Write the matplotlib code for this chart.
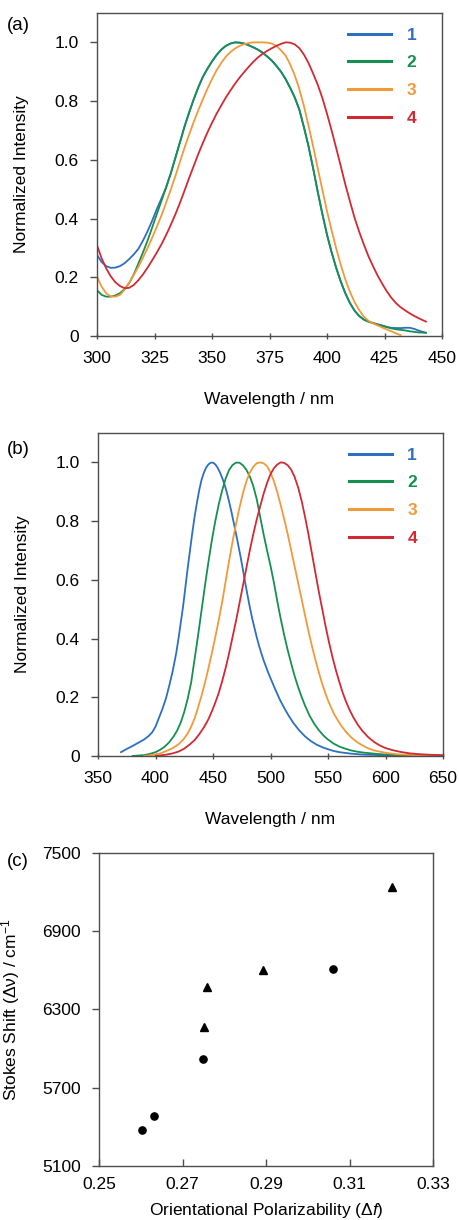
import matplotlib
matplotlib.use("Agg")
import matplotlib.pyplot as plt

# ========== Style ==========
plt.rcParams["font.family"] = ["Liberation Sans", "DejaVu Sans"]
plt.rcParams["mathtext.fontset"] = "custom"
plt.rcParams["mathtext.rm"] = "Liberation Sans"
plt.rcParams["mathtext.it"] = "Liberation Sans:italic"
FS = 12.5
SPINE = "#4d4d4d"
colors = ["#2d6fc0", "#169050", "#f09a3a", "#d02a35"]
labels = ["1", "2", "3", "4"]

# ========== (a) absorption ==========
abs1_x = [300, 302, 304, 306, 308, 310, 312, 314, 316, 318, 320, 322, 324, 326, 328, 330, 332, 334, 336, 338,
          340, 342, 344, 346, 348, 350, 352, 354, 356, 358, 360, 362, 364, 366, 368, 370, 372, 374, 376, 378,
          380, 382, 384, 386, 388, 390, 392, 394, 396, 398, 400, 402, 404, 406, 408, 410, 412, 414, 416, 418,
          420, 422, 424, 426, 428, 430, 432, 434, 436, 438, 440, 443]
abs1_y = [0.276, 0.252, 0.238, 0.232, 0.233, 0.238, 0.248, 0.262, 0.278, 0.297, 0.325, 0.357, 0.393, 0.432,
          0.468, 0.505, 0.552, 0.605, 0.658, 0.712, 0.76, 0.805, 0.846, 0.882, 0.91, 0.935, 0.957, 0.975, 0.988,
          0.996, 1.0, 0.999, 0.996, 0.99, 0.983, 0.975, 0.965, 0.952, 0.938, 0.92, 0.9, 0.875, 0.845, 0.812,
          0.77, 0.71, 0.645, 0.57, 0.49, 0.415, 0.345, 0.285, 0.232, 0.185, 0.145, 0.112, 0.086, 0.068, 0.056,
          0.049, 0.044, 0.04, 0.036, 0.031, 0.028, 0.027, 0.027, 0.028, 0.028, 0.024, 0.018, 0.011]
abs2_x = [300, 302, 304, 306, 308, 310, 312, 314, 316, 318, 320, 322, 324, 326, 328, 330, 332, 334, 336, 338,
          340, 342, 344, 346, 348, 350, 352, 354, 356, 358, 360, 362, 364, 366, 368, 370, 372, 374, 376, 378,
          380, 382, 384, 386, 388, 390, 392, 394, 396, 398, 400, 402, 404, 406, 408, 410, 412, 414, 416, 418,
          420, 422, 424, 426, 428, 430, 432, 434, 436, 438, 440, 443]
abs2_y = [0.156, 0.14, 0.134, 0.134, 0.138, 0.146, 0.16, 0.18, 0.21, 0.247, 0.285, 0.325, 0.37, 0.415, 0.46,
          0.505, 0.552, 0.605, 0.658, 0.712, 0.76, 0.805, 0.846, 0.882, 0.91, 0.935, 0.957, 0.975, 0.988, 0.996,
          1.0, 0.999, 0.996, 0.99, 0.983, 0.975, 0.965, 0.952, 0.938, 0.92, 0.9, 0.875, 0.845, 0.812, 0.77,
          0.71, 0.645, 0.57, 0.49, 0.415, 0.345, 0.285, 0.232, 0.185, 0.145, 0.112, 0.086, 0.068, 0.056, 0.049,
          0.044, 0.039, 0.034, 0.03, 0.026, 0.023, 0.021, 0.019, 0.016, 0.014, 0.012, 0.011]
abs3_x = [300, 302, 304, 306, 308, 310, 312, 314, 316, 318, 320, 322, 324, 326, 328, 330, 332, 334, 336, 338,
          340, 342, 344, 346, 348, 350, 352, 354, 356, 358, 360, 362, 364, 366, 368, 370, 372, 374, 376, 378,
          380, 382, 384, 386, 388, 390, 392, 394, 396, 398, 400, 402, 404, 406, 408, 410, 412, 414, 416, 418,
          420, 422, 424, 426, 428, 430, 432]
abs3_y = [0.202, 0.168, 0.145, 0.135, 0.134, 0.14, 0.158, 0.182, 0.208, 0.236, 0.267, 0.3, 0.335, 0.372, 0.41,
          0.453, 0.497, 0.543, 0.592, 0.64, 0.685, 0.728, 0.768, 0.806, 0.842, 0.875, 0.905, 0.93, 0.951, 0.967,
          0.979, 0.988, 0.994, 0.998, 1.0, 1.0, 1.0, 0.999, 0.996, 0.988, 0.973, 0.955, 0.925, 0.887, 0.84,
          0.782, 0.715, 0.645, 0.57, 0.497, 0.425, 0.36, 0.298, 0.242, 0.192, 0.15, 0.115, 0.088, 0.066, 0.052,
          0.043, 0.036, 0.029, 0.022, 0.016, 0.009, 0.003]
abs4_x = [300, 302, 304, 306, 308, 310, 312, 314, 316, 318, 320, 322, 324, 326, 328, 330, 332, 334, 336, 338,
          340, 342, 344, 346, 348, 350, 352, 354, 356, 358, 360, 362, 364, 366, 368, 370, 372, 374, 376, 378,
          380, 382, 384, 386, 388, 390, 392, 394, 396, 398, 400, 402, 404, 406, 408, 410, 412, 414, 416, 418,
          420, 422, 424, 426, 428, 430, 432, 434, 436, 438, 440, 443]
abs4_y = [0.309, 0.265, 0.23, 0.203, 0.183, 0.17, 0.163, 0.164, 0.174, 0.19, 0.21, 0.233, 0.258, 0.284, 0.312,
          0.343, 0.377, 0.413, 0.452, 0.494, 0.537, 0.578, 0.619, 0.657, 0.693, 0.726, 0.757, 0.785, 0.812,
          0.836, 0.859, 0.88, 0.899, 0.917, 0.934, 0.949, 0.961, 0.971, 0.98, 0.988, 0.995, 1.0, 0.999, 0.993,
          0.98, 0.958, 0.929, 0.893, 0.855, 0.81, 0.757, 0.7, 0.64, 0.578, 0.515, 0.458, 0.402, 0.355, 0.312,
          0.272, 0.238, 0.206, 0.178, 0.152, 0.13, 0.112, 0.098, 0.087, 0.077, 0.068, 0.06, 0.049]

# ========== (b) emission ==========
em1_x = [370, 375, 380, 385, 390, 394, 397, 400, 403, 406, 409, 412, 415, 418, 420, 422, 424, 426, 428, 430,
         432, 434, 436, 438, 440, 442, 444, 446, 448, 450, 452, 454, 456, 458, 460, 462, 464, 466, 468, 470,
         472, 474, 476, 478, 480, 482, 484, 486, 488, 490, 492, 494, 496, 498, 500, 504, 508, 512, 516, 520,
         525, 530, 535, 540, 545, 550, 555, 560, 570, 580, 595, 610]
em1_y = [0.013, 0.024, 0.034, 0.045, 0.056, 0.068, 0.08, 0.1, 0.13, 0.16, 0.195, 0.24, 0.29, 0.35, 0.4, 0.455,
         0.51, 0.575, 0.64, 0.7, 0.76, 0.815, 0.862, 0.905, 0.94, 0.964, 0.982, 0.993, 0.999, 0.999, 0.993,
         0.982, 0.966, 0.947, 0.925, 0.898, 0.866, 0.832, 0.795, 0.757, 0.718, 0.678, 0.635, 0.59, 0.548, 0.507,
         0.47, 0.437, 0.405, 0.376, 0.35, 0.326, 0.305, 0.284, 0.265, 0.228, 0.193, 0.163, 0.136, 0.112, 0.087,
         0.067, 0.051, 0.039, 0.03, 0.023, 0.017, 0.013, 0.008, 0.005, 0.003, 0.001]
em2_x = [380, 390, 395, 400, 404, 408, 412, 416, 419, 422, 425, 428, 431, 434, 437, 440, 443, 446, 449, 452,
         455, 458, 461, 464, 467, 470, 473, 476, 479, 482, 485, 488, 491, 494, 497, 500, 503, 506, 509, 512,
         515, 518, 521, 524, 527, 530, 534, 538, 542, 546, 550, 555, 560, 565, 570, 575, 580, 590, 600, 615,
         635]
em2_y = [0.0, 0.003, 0.007, 0.013, 0.021, 0.032, 0.047, 0.068, 0.088, 0.115, 0.15, 0.195, 0.25, 0.33, 0.41,
         0.495, 0.58, 0.66, 0.735, 0.8, 0.857, 0.905, 0.945, 0.974, 0.991, 0.999, 0.999, 0.99, 0.975, 0.952,
         0.92, 0.875, 0.815, 0.755, 0.7, 0.648, 0.59, 0.525, 0.465, 0.41, 0.36, 0.315, 0.272, 0.235, 0.202,
         0.172, 0.137, 0.11, 0.088, 0.07, 0.056, 0.042, 0.032, 0.025, 0.019, 0.015, 0.012, 0.008, 0.005, 0.002,
         0.0]
em3_x = [390, 400, 405, 410, 415, 420, 424, 428, 431, 434, 437, 440, 443, 446, 449, 452, 455, 458, 461, 464,
         467, 470, 473, 476, 479, 482, 485, 488, 491, 494, 497, 500, 503, 506, 509, 512, 515, 518, 521, 524,
         527, 530, 533, 536, 539, 542, 545, 548, 551, 555, 560, 565, 570, 575, 580, 585, 590, 600, 610, 625,
         650]
em3_y = [0.0, 0.005, 0.01, 0.018, 0.027, 0.04, 0.055, 0.077, 0.1, 0.128, 0.165, 0.205, 0.25, 0.298, 0.35,
         0.405, 0.463, 0.525, 0.595, 0.665, 0.73, 0.79, 0.845, 0.895, 0.935, 0.965, 0.985, 0.997, 1.0, 0.997,
         0.987, 0.965, 0.935, 0.897, 0.852, 0.805, 0.755, 0.7, 0.645, 0.59, 0.535, 0.48, 0.425, 0.375, 0.328,
         0.285, 0.245, 0.21, 0.18, 0.145, 0.112, 0.085, 0.064, 0.048, 0.036, 0.026, 0.019, 0.011, 0.006, 0.003,
         0.0]
em4_x = [400, 410, 415, 420, 425, 430, 434, 438, 442, 446, 449, 452, 455, 458, 461, 464, 467, 470, 473, 476,
         479, 482, 485, 488, 491, 494, 497, 500, 503, 506, 509, 512, 515, 518, 521, 524, 527, 530, 533, 536,
         539, 542, 545, 548, 551, 554, 557, 560, 563, 566, 569, 572, 576, 580, 585, 590, 595, 600, 606, 613,
         621, 630, 640, 650]
em4_y = [0.0, 0.005, 0.009, 0.015, 0.025, 0.04, 0.054, 0.074, 0.097, 0.125, 0.152, 0.182, 0.215, 0.255, 0.3,
         0.35, 0.405, 0.46, 0.52, 0.58, 0.64, 0.7, 0.755, 0.805, 0.85, 0.893, 0.93, 0.96, 0.98, 0.993, 1.0,
         0.998, 0.99, 0.975, 0.95, 0.915, 0.87, 0.815, 0.755, 0.69, 0.625, 0.56, 0.5, 0.44, 0.385, 0.335, 0.29,
         0.25, 0.213, 0.182, 0.155, 0.132, 0.106, 0.085, 0.064, 0.048, 0.036, 0.027, 0.02, 0.014, 0.009, 0.006,
         0.004, 0.003]

# ========== (c) Stokes shift ==========
circ_df = [0.2603, 0.2631, 0.2748, 0.3060]
circ_shift = [5374, 5487, 5920, 6611]
tri_df = [0.2752, 0.2759, 0.2892, 0.3202]
tri_shift = [6163, 6475, 6603, 7239]

intensity_ticks = [0, 0.2, 0.4, 0.6, 0.8, 1.0]
intensity_labels = ["0", "0.2", "0.4", "0.6", "0.8", "1.0"]

# ========== Figure ==========
W, H = 459, 1220
fig = plt.figure(figsize=(W / 100, H / 100), dpi=100)


def px_axes(left, top, right, bottom):
    return fig.add_axes([left / W, 1 - bottom / H, (right - left) / W, (bottom - top) / H])


def style(ax, xdir="inout"):
    for s in ax.spines.values():
        s.set_color(SPINE)
        s.set_linewidth(1.0)
    ax.tick_params(axis="y", direction="out", length=5, width=1, color=SPINE, pad=8, labelsize=FS)
    ax.tick_params(axis="x", direction=xdir, length=5, width=1, color=SPINE, pad=8, labelsize=FS)


def spectrum(ax, series, xlim, xticks):
    for (x, y), c, lab in zip(series, colors, labels):
        ax.plot(x, y, color=c, lw=1.3, label=lab)
    ax.set_xlim(*xlim)
    ax.set_ylim(0, 1.1)
    ax.set_xticks(xticks)
    ax.set_yticks(intensity_ticks)
    ax.set_yticklabels(intensity_labels)
    ax.set_xlabel("Wavelength / nm", fontsize=FS, va="center")
    ax.set_ylabel("Normalized Intensity", fontsize=FS)
    ax.xaxis.set_label_coords(0.5, -0.198)
    ax.yaxis.set_label_coords(-0.197, 0.5)
    style(ax)
    leg = ax.legend(loc="upper right", bbox_to_anchor=(0.925, 0.955), frameon=False,
                    borderaxespad=0, borderpad=0, handlelength=2.45, handletextpad=0.9,
                    labelspacing=0.72, labelcolor="linecolor",
                    prop={"weight": "bold", "size": FS})
    for line in leg.get_lines():
        line.set_linewidth(2.2)


ax_a = px_axes(97, 13, 442, 336)
spectrum(ax_a, [(abs1_x, abs1_y), (abs2_x, abs2_y), (abs3_x, abs3_y), (abs4_x, abs4_y)],
         (300, 450), [300, 325, 350, 375, 400, 425, 450])

ax_b = px_axes(98, 433, 443, 756)
spectrum(ax_b, [(em1_x, em1_y), (em2_x, em2_y), (em3_x, em3_y), (em4_x, em4_y)],
         (350, 650), [350, 400, 450, 500, 550, 600, 650])

ax_c = px_axes(99, 853, 433, 1166)
ax_c.plot(circ_df, circ_shift, "o", color="black", ms=5.2)
ax_c.plot(tri_df, tri_shift, "^", color="black", ms=6)
ax_c.set_xlim(0.25, 0.33)
ax_c.set_ylim(5100, 7500)
ax_c.set_xticks([0.25, 0.27, 0.29, 0.31, 0.33])
ax_c.set_yticks([5100, 5700, 6300, 6900, 7500])
ax_c.set_xlabel("Orientational Polarizability (Δ$\\mathit{f}$)", fontsize=FS, va="center")
ax_c.set_ylabel("Stokes Shift (Δν) / cm$^{-1}$", fontsize=FS)
ax_c.xaxis.set_label_coords(0.5, -0.143)
ax_c.yaxis.set_label_coords(-0.23, 0.5)
style(ax_c, xdir="in")

# panel letters
for lab, y in [("(a)", 26), ("(b)", 449), ("(c)", 862)]:
    fig.text(7 / W, 1 - y / H, lab, fontsize=FS + 1, ha="left", va="center")

fig.savefig("out.png", dpi=100)
